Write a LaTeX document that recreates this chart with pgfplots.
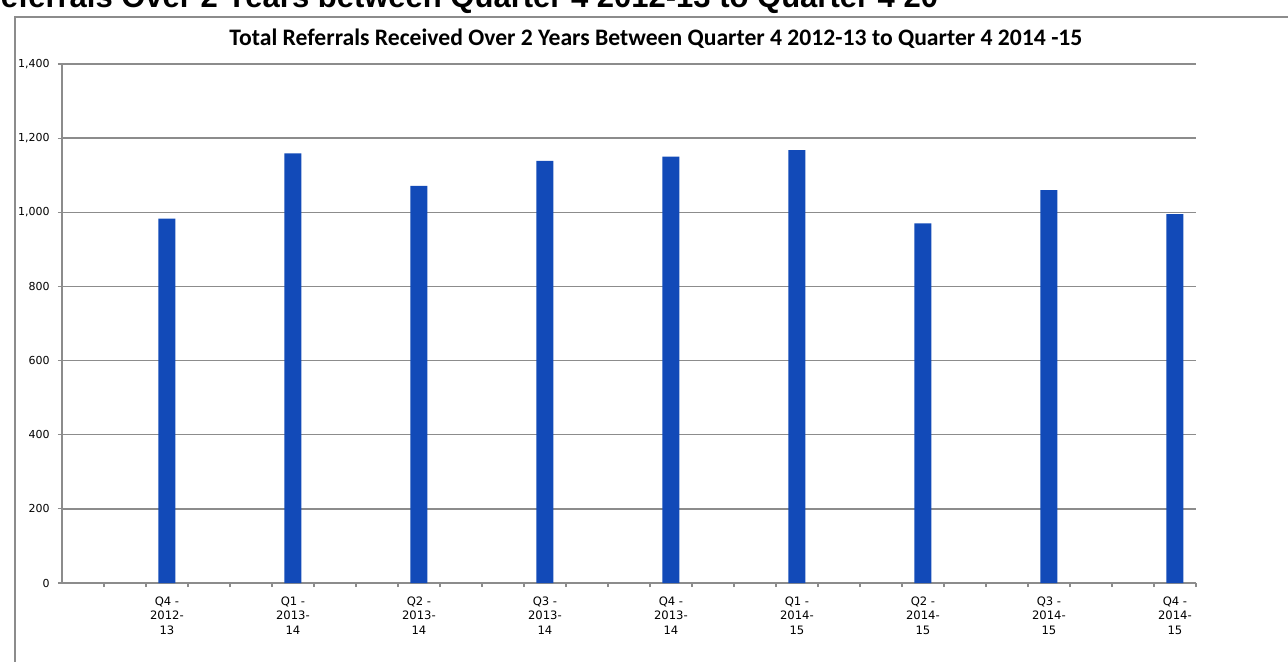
\documentclass[border=0pt]{standalone}
\usepackage{fontspec}
\setmainfont{Carlito}
\newfontfamily\tickfont{DejaVu Sans}
\newfontfamily\headfont{Liberation Sans}
\usepackage{pgfplots}
\pgfplotsset{compat=1.18}
\definecolor{barblue}{RGB}{18,74,184}
\definecolor{gridgray}{RGB}{140,140,140}
\begin{document}
\begin{tikzpicture}[x=1pt,y=1pt]
\useasboundingbox[fill=white] (0,0) rectangle (644,330.5);
\draw[gridgray, line width=1pt] (7.5,-20) -- (7.5,322) -- (700,322);
\node[anchor=base west, inner sep=0pt, font=\headfont\bfseries\fontsize{15.5}{18}\selectfont] at (-11,327) {Referrals Over 2 Years between Quarter 4 2012-13 to Quarter 4 20};
\node[anchor=base, inner sep=0pt] at (328,308) {\resizebox{426.5pt}{!}{\bfseries Total Referrals Received Over 2 Years Between Quarter 4 2012-13 to Quarter 4 2014 -15}};
\begin{axis}[
  at={(31pt,39pt)}, anchor=south west, scale only axis,
  width=567pt, height=259.5pt,
  xmin=-0.833, xmax=8.167, ymin=0, ymax=1400,
  ytick={0,200,...,1400},
  xtick={-0.5,-0.1667,0.1667,0.5,0.8333,1.1667,1.5,1.8333,2.1667,2.5,2.8333,3.1667,3.5,3.8333,4.1667,4.5,4.8333,5.1667,5.5,5.8333,6.1667,6.5,6.8333,7.1667,7.5,7.8333,8.1667},
  xticklabels={},
  extra x ticks={0,1,2,3,4,5,6,7,8},
  extra x tick labels={{Q4 -\\2012-\\13},{Q1 -\\2013-\\14},{Q2 -\\2013-\\14},{Q3 -\\2013-\\14},{Q4 -\\2013-\\14},{Q1 -\\2014-\\15},{Q2 -\\2014-\\15},{Q3 -\\2014-\\15},{Q4 -\\2014-\\15}},
  extra x tick style={major tick length=0pt, xticklabel style={font=\tickfont\fontsize{5.8}{7.4}\selectfont, align=center, inner sep=0pt, yshift=-6.5pt}},
  axis x line*=bottom, axis y line*=left,
  axis line style={gridgray, line width=0.75pt, -},
  ymajorgrids, major grid style={gridgray, line width=0.75pt},
  tick align=outside, major tick length=2pt,
  tick style={gridgray, line width=0.6pt},
  /pgf/number format/.cd, 1000 sep={,}, assume math mode=true, /pgfplots/.cd,
  yticklabel style={font=\tickfont\fontsize{5.5}{6}\selectfont, inner sep=0pt, xshift=-4pt},
]
\addplot[ybar, bar width=8.5pt, fill=barblue, draw=none] coordinates {(0,983) (1,1159) (2,1071) (3,1139) (4,1150) (5,1168) (6,970) (7,1060) (8,995)};
\end{axis}
\end{tikzpicture}
\end{document}
